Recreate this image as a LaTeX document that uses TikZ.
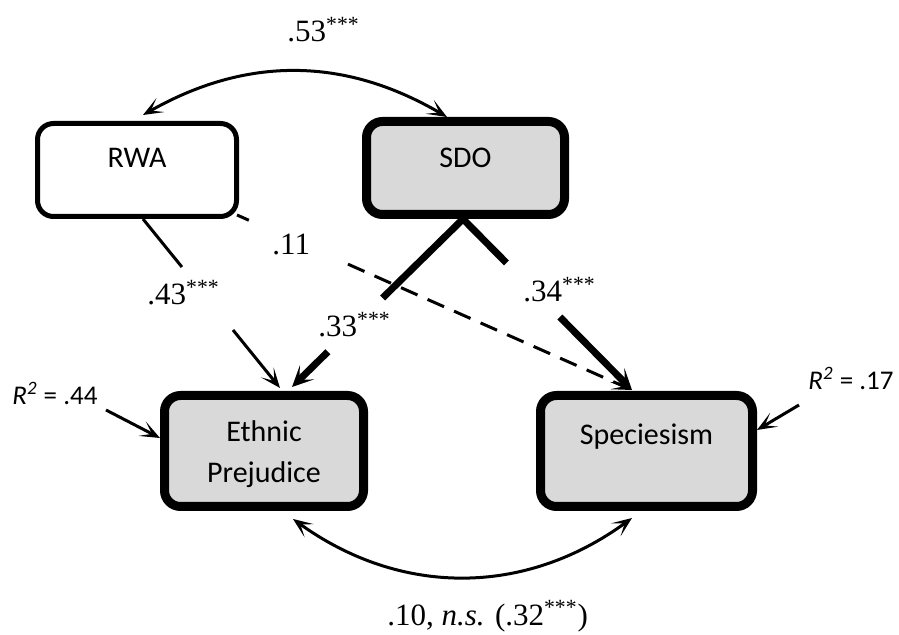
\documentclass[tikz,border=0pt]{standalone}
\usepackage{fontspec}
\setmainfont{Liberation Serif}
\newfontfamily\boxfont{Carlito}
\usetikzlibrary{arrows.meta,calc}
\definecolor{boxgray}{HTML}{D9D9D9}
\tikzset{
  varbox/.style={draw, rounded corners=8pt, inner sep=0pt, align=center,
    font=\boxfont\fontsize{15}{20.5}\selectfont},
  thinbox/.style={varbox, line width=2.5pt, fill=white},
  thickbox/.style={varbox, line width=4.5pt, fill=boxgray},
  coef/.style={anchor=base west, inner sep=0pt, font=\fontsize{15.5}{18}\selectfont},
  rsq/.style={anchor=base west, inner sep=0pt, font=\boxfont\fontsize{13.5}{16}\selectfont},
  thinarrow/.style={line width=1.5pt, -{Stealth[length=10pt,width=8pt,inset=5.5pt]}},
  thinline/.style={line width=1.5pt},
  thickline/.style={line width=3.5pt},
  thickarrow/.style={line width=3.5pt, -{Stealth[length=10.5pt,width=10pt,inset=5.5pt]}},
  dashline/.style={line width=1.5pt, dash pattern=on 9pt off 5.5pt},
  corrarrow/.style={line width=1.5pt, {Stealth[length=10pt,width=8pt,inset=5.5pt]}-{Stealth[length=10pt,width=8pt,inset=5.5pt]}}
}
\begin{document}
\begin{tikzpicture}[x=0.5pt,y=-0.5pt]
\useasboundingbox (0,0) rectangle (899,635);

% boxes
\node[thinbox, minimum width=99.5pt, minimum height=46.5pt, text height=10pt, text depth=12pt] (rwa) at (137,170) {RWA};
\node[thickbox, minimum width=99pt, minimum height=46.5pt, text height=10pt, text depth=10pt] (sdo) at (465.5,168) {SDO};
\node[thickbox, minimum width=99.5pt, minimum height=55.5pt, text height=32pt, text depth=0pt] (eth) at (264,451) {Ethnic\\Prejudice};
\node[thickbox, minimum width=106pt, minimum height=55.5pt, text height=10pt, text depth=16pt] (spec) at (646.5,451) {Speciesism};

% connector end points
\coordinate (a1) at ($(rwa.south)+(6,0)$);
\coordinate (a2) at ($(eth.north)+(16,-3)$);
\coordinate (b1) at ($(sdo.south)+(-2.5,0)$);
\coordinate (b2) at ($(eth.north)+(28,-4)$);
\coordinate (c2) at ($(spec.north)+(-14.5,-1)$);
\coordinate (d1) at ($(rwa.south east)+(-2,-4)$);
\coordinate (t1) at ($(rwa.north)+(6,-6)$);
\coordinate (t2) at ($(sdo.north)+(-18.5,0)$);
\coordinate (u1) at ($(eth.south)+(29,8)$);
\coordinate (u2) at ($(spec.south)+(-14.5,7)$);
\coordinate (rl) at (106,410);
\coordinate (rr) at (799,405);

% RWA -> Speciesism (dashed)
\draw[dashline] (d1) -- ($(d1)!0.03!(c2)$);
\draw[dashline, -{Stealth[length=10pt,width=8pt,inset=5.5pt]}] ($(d1)!0.281!(c2)$) -- (c2);

% RWA -> Ethnic
\draw[thinline] (a1) -- ($(a1)!0.284!(a2)$);
\draw[thinarrow] ($(a1)!0.657!(a2)$) -- (a2);

% SDO -> Ethnic
\draw[thickline] (b1) -- ($(b1)!0.47!(b2)$);
\draw[thickarrow] ($(b1)!0.79!(b2)$) -- (b2);

% SDO -> Speciesism
\draw[thickline] (b1) -- ($(b1)!0.257!(c2)$);
\draw[thickarrow] ($(b1)!0.573!(c2)$) -- (c2);

% correlations
\draw[corrarrow] (t1) to[bend left=30] (t2);
\draw[corrarrow] (u1) to[bend right=36] (u2);

% residual arrows
\draw[thinarrow] (rl) -- ($(eth.west)+(0,-13)$);
\draw[thinarrow] (rr) -- ($(spec.east)+(0,-21)$);

% labels
\node[coef] (l53) at (287,42) {.53\textsuperscript{***}};
\node[coef] (l43) at (147,305) {.43\textsuperscript{***}};
\node[coef] (l11) at (272,255) {.11};
\node[coef] (l33) at (318,337) {.33\textsuperscript{***}};
\node[coef] (l34) at (523,302) {.34\textsuperscript{***}};
\node[coef] (l10) at (387,625) {.10, \textit{n.s.} (.32\textsuperscript{***})};
\node[rsq] (r2l) at (12,405) {\textit{R\textsuperscript{2}} = .44};
\node[rsq] (r2r) at (808,390) {\textit{R\textsuperscript{2}} = .17};
\end{tikzpicture}
\end{document}
